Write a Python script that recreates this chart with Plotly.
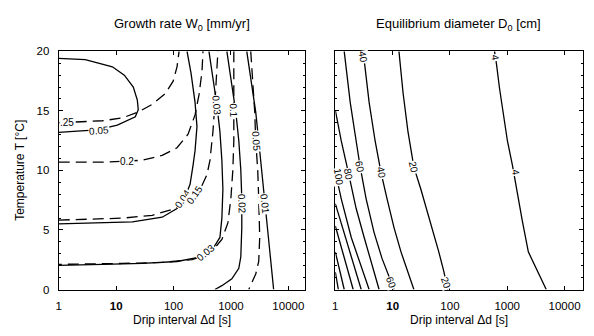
import numpy as np
import plotly.graph_objects as go

# ---------------- data ----------------
# Left panel: growth rate W0 (solid) and second set (dashed), x = drip interval [s], T = temperature [degC]
w005_x = [1, 2.9, 8.6, 13.9, 19.9, 23.4, 24.3, 21.6, 10.5, 4.7, 2.1, 1]
w005_T = [19.4, 19.3, 18.7, 18.0, 17.0, 15.9, 15.1, 14.5, 13.8, 13.4, 13.3, 13.2]
w004_x = [1, 19.2, 63.4, 115, 159, 194, 219, 237, 256, 237, 202, 172]
w004_T = [5.51, 5.67, 6.07, 6.80, 7.77, 8.83, 10.45, 11.66, 13.68, 15.71, 18.14, 20.0]
w003_x = [414, 486, 570, 642, 695, 724, 695, 642, 505, 382, 256, 115, 28.6, 5.8, 1]
w003_T = [20.0, 17.73, 15.47, 13.28, 10.85, 8.42, 5.99, 4.37, 3.56, 3.08, 2.67, 2.35, 2.19, 2.11, 2.02]
w002_x = [849, 1037, 1216, 1371, 1485, 1545, 1545, 1485, 1371, 1037, 695, 526]
w002_T = [20, 17.33, 14.90, 12.47, 10.04, 7.61, 5.18, 2.75, 1.78, 0.89, 0.32, 0]
w001_x = [1887, 2302, 2703, 3046, 3432, 3871, 4362, 4917, 5324, 5541]
w001_T = [20, 17.33, 14.90, 12.47, 10.04, 7.61, 5.18, 2.75, 1.13, 0]

d025_x = [1, 5.8, 12.9, 24.3, 42.6, 71.5, 98.4, 115, 125]
d025_T = [14.0, 14.17, 14.41, 14.90, 15.55, 16.44, 17.49, 18.70, 20.0]
d020_x = [1, 5.8, 28.6, 63.4, 115, 179, 237, 278, 313, 326]
d020_T = [10.69, 10.69, 10.85, 11.26, 11.90, 13.04, 14.66, 16.36, 18.30, 20.0]
d015_x = [1, 12.9, 42.6, 94.6, 172, 237, 313, 382, 431, 486, 526, 570, 593]
d015_T = [5.83, 5.99, 6.23, 6.72, 7.37, 8.02, 8.74, 9.64, 10.85, 13.28, 15.71, 18.14, 20.0]
d010_x = [1122, 1122, 1122, 1122, 1079, 996, 884, 695, 505, 382, 210, 63.4, 12.9, 1]
d010_T = [20.0, 17.33, 15.06, 12.47, 10.04, 7.61, 5.59, 4.21, 3.40, 2.91, 2.51, 2.27, 2.19, 2.11]
d005_x = [2213, 2396, 2596, 2703, 2927, 3046, 3170, 3046, 2703, 2302, 2043]
d005_T = [20, 17.33, 14.90, 12.47, 10.04, 7.61, 4.37, 2.35, 1.30, 0.57, 0]

# Right panel: equilibrium diameter D0 [cm]
D4_x = [600, 649, 732, 826, 1008, 1230, 1445, 1836, 2334, 3214, 4794]
D4_T = [20, 18.95, 16.92, 15.14, 12.47, 10.45, 8.42, 5.75, 3.16, 1.70, 0]
D20_x = [12.9, 15.2, 18.5, 23.5, 31.1, 46.4, 63.9, 78.0, 91.6]
D20_T = [20, 16.52, 13.28, 10.28, 8.42, 5.59, 3.16, 1.54, 0]
D40_x = [3.06, 3.89, 4.95, 6.29, 8.00, 10.6, 14.0, 18.5, 23.5]
D40_T = [20, 15.71, 12.47, 9.80, 7.61, 5.18, 3.16, 1.54, 0]
D60_x = [1.43, 1.82, 2.31, 2.72, 3.45, 4.75, 6.55, 9.38, 10.6]
D60_T = [20, 15.71, 12.47, 10.28, 7.61, 4.78, 2.59, 0.57, 0]
D80_x = [1, 1.27, 1.68, 2.31, 3.19, 4.39, 5.81]
D80_T = [15.06, 12.47, 9.88, 6.80, 4.37, 2.11, 0]
D100_x = [1, 1.27, 1.90, 2.83, 3.89]
D100_T = [9.88, 7.61, 4.37, 1.94, 0]
D120_x = [1, 1.27, 1.68, 2.22, 2.83]
D120_T = [7.21, 5.59, 3.56, 1.78, 0]
D140_x = [1, 1.27, 1.62, 2.05]
D140_T = [5.34, 3.56, 1.78, 0]
D160_x = [1, 1.17, 1.43]
D160_T = [3.16, 1.78, 0]
D180_x = [1, 1.13]
D180_T = [1.46, 0]

x_tickvals = [1, 10, 100, 1000, 10000]
x_ticktext = ["1", "<b>10</b>", "100", "1000", "10000"]
y_tickvals = [0, 5, 10, 15, 20]

# contour label placements: (text, x, T, angle)
left_labels = [
    (".25", 1.38, 14.05, 0), ("0.05", 5.1, 13.36, -5), ("0.2", 15.7, 10.77, 0),
    ("0.04", 147, 7.61, -55), ("0.15", 237, 7.94, -55), ("0.03", 570, 15.47, 85),
    ("0.1", 1122, 15.06, 88), ("0.05", 2703, 12.47, 85), ("0.02", 1545, 7.21, 88),
    ("0.01", 3871, 7.21, 84), ("0.03", 367, 3.08, -40),
]
right_labels = [
    ("40", 3.06, 19.5, 80), ("60", 2.72, 10.28, 78), ("40", 6.29, 9.80, 78),
    ("20", 23.5, 10.28, 78), ("100", 1.13, 9.47, 80), ("80", 1.68, 9.64, 78),
    ("60", 9.38, 0.57, 70), ("20", 84.5, 0.57, 70), ("4", 624, 19.51, 80),
    ("4", 1387, 9.80, 80),
]

# ---------------- figure ----------------
FONT = "Liberation Sans, Arial, sans-serif"
fig = go.Figure()

def add_line(x, y, xa, ya, dash="solid"):
    fig.add_trace(go.Scatter(x=x, y=y, mode="lines", xaxis=xa, yaxis=ya,
                             line=dict(color="black", width=1.3, dash=dash),
                             hoverinfo="skip", showlegend=False))

for xs, ys in [(w005_x, w005_T), (w004_x, w004_T), (w003_x, w003_T),
               (w002_x, w002_T), (w001_x, w001_T)]:
    add_line(xs, ys, "x", "y")
for xs, ys in [(d025_x, d025_T), (d020_x, d020_T), (d015_x, d015_T),
               (d010_x, d010_T), (d005_x, d005_T)]:
    add_line(xs, ys, "x", "y", dash="11px,6px")
for xs, ys in [(D4_x, D4_T), (D20_x, D20_T), (D40_x, D40_T), (D60_x, D60_T),
               (D80_x, D80_T), (D100_x, D100_T), (D120_x, D120_T),
               (D140_x, D140_T), (D160_x, D160_T), (D180_x, D180_T)]:
    add_line(xs, ys, "x2", "y2")

annotations = []
for (t, x, y, a) in left_labels:
    annotations.append(dict(text=t, x=np.log10(x), y=y, xref="x", yref="y", showarrow=False,
                            textangle=a, bgcolor="white", borderpad=0,
                            xanchor="center", yanchor="middle",
                            font=dict(family=FONT, size=10, color="black")))
for (t, x, y, a) in right_labels:
    annotations.append(dict(text=t, x=np.log10(x), y=y, xref="x2", yref="y2", showarrow=False,
                            textangle=a, bgcolor="white", borderpad=0,
                            xanchor="center", yanchor="middle",
                            font=dict(family=FONT, size=10, color="black")))

def paper_text(text, px, py, size, angle=0):
    return dict(text=text, x=px / 594, y=1 - py / 336, xref="paper", yref="paper",
                xanchor="center", yanchor="middle", showarrow=False, textangle=angle,
                font=dict(family=FONT, size=size, color="black"))

annotations += [
    paper_text("Growth rate W<sub>0</sub> [mm/yr]", 180, 19, 13),
    paper_text("Equilibrium diameter D<sub>0</sub> [cm]", 458, 19, 13),
    paper_text("Drip interval \u0394d [s]", 180, 326, 12),
    paper_text("Drip interval \u0394d [s]", 458, 326, 12),
    paper_text("Temperature T [\u00b0C]", 17, 170, 12, -90),
]

xcommon = dict(type="log", tickvals=x_tickvals, ticktext=x_ticktext, showgrid=False, zeroline=False,
               showline=True, linecolor="black", linewidth=1, mirror="ticks", ticks="inside",
               ticklen=4, tickcolor="black", ticklabelstandoff=6,
               tickfont=dict(family=FONT, size=11.5, color="black"))
ycommon = dict(range=[0, 20], tickvals=y_tickvals, showgrid=False, zeroline=False,
               showline=True, linecolor="black", linewidth=1, mirror="ticks", ticks="inside",
               ticklen=4, tickcolor="black", ticklabelstandoff=6,
               tickfont=dict(family=FONT, size=11.5, color="black"),
               minor=dict(ticks="inside", dtick=1, ticklen=2, tickcolor="black", showgrid=False))

fig.update_layout(
    width=594, height=336, margin=dict(l=0, r=0, t=0, b=0),
    paper_bgcolor="white", plot_bgcolor="white", showlegend=False,
    xaxis=dict(domain=[56 / 594, 304 / 594], range=[0, 4.298], anchor="y", **xcommon),
    yaxis=dict(domain=[1 - 294 / 336, 1 - 47 / 336], anchor="x", **ycommon),
    xaxis2=dict(domain=[334 / 594, 583 / 594], range=[0, 4.323], anchor="y2", **xcommon),
    yaxis2=dict(domain=[1 - 294 / 336, 1 - 47 / 336], anchor="x2", showticklabels=False, **ycommon),
    annotations=annotations,
)

fig.write_html("out.html")
